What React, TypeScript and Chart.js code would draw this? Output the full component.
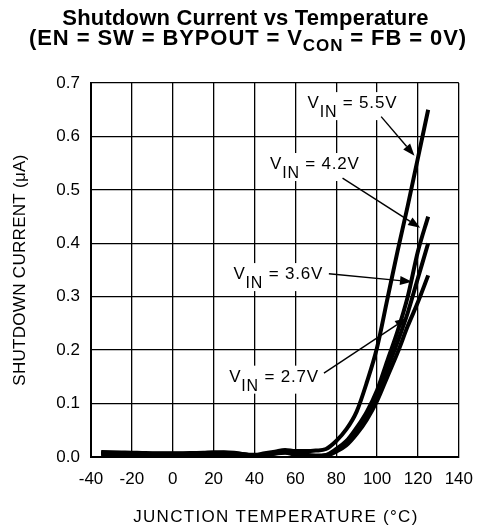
import React, { useEffect, useRef } from "react";
import { Chart, registerables } from "chart.js";

Chart.register(...registerables);

// ---------- data ----------
const temperatures = [
  -35, -30, -25, -20, -15, -10, -5, 0, 5, 10, 15, 20, 25, 30, 35, 40, 45, 50, 55, 60,
  65, 70, 75, 80, 85, 90, 95, 100, 105, 110, 115, 120, 125,
];

const vin55 = [
  0.0095, 0.009, 0.0085, 0.008, 0.0075, 0.007, 0.007, 0.007, 0.007, 0.0075, 0.008, 0.009,
  0.009, 0.008, 0.005, 0.004, 0.007, 0.01, 0.013, 0.011, 0.011, 0.012, 0.015,
  0.03, 0.052, 0.085, 0.14, 0.205, 0.295, 0.385, 0.47, 0.56, 0.65,
];
const vin42 = [
  0.008, 0.0075, 0.007, 0.0065, 0.006, 0.006, 0.006, 0.006, 0.006, 0.0065, 0.007, 0.0075,
  0.008, 0.007, 0.005, 0.002, 0.004, 0.008, 0.01, 0.006, 0.004, 0.003, 0.004,
  0.015, 0.03, 0.055, 0.085, 0.125, 0.18, 0.235, 0.3, 0.385, 0.45,
];
const vin36 = [
  0.006, 0.006, 0.0055, 0.005, 0.005, 0.005, 0.005, 0.005, 0.005, 0.0055, 0.006, 0.006,
  0.007, 0.006, 0.003, 0.001, 0.003, 0.007, 0.009, 0.005, 0.003, 0.002, 0.003,
  0.012, 0.025, 0.048, 0.078, 0.115, 0.165, 0.215, 0.27, 0.335, 0.4,
];
const vin27 = [
  0.0045, 0.0045, 0.004, 0.004, 0.0035, 0.0035, 0.0035, 0.0035, 0.004, 0.004, 0.0045, 0.005,
  0.0055, 0.0045, 0.002, 0.0005, 0.002, 0.006, 0.008, 0.004, 0.002, 0.001, 0.002,
  0.01, 0.022, 0.043, 0.07, 0.105, 0.15, 0.195, 0.245, 0.29, 0.34,
];

const seriesLabels = ["5.5V", "4.2V", "3.6V", "2.7V"];
const seriesValues = [vin55, vin42, vin36, vin27];

const xTicks = [-40, -20, 0, 20, 40, 60, 80, 100, 120, 140];
const yTicks = [0, 0.1, 0.2, 0.3, 0.4, 0.5, 0.6, 0.7];

// annotation anchors, in data units (temperature, current)
const labelT = [66, 47.6, 29.7, 27.6];
const labelV = [0.653, 0.539, 0.333, 0.141];
const arrowFromT = [102, 83.1, 76.4, 74];
const arrowFromV = [0.637, 0.522, 0.343, 0.157];
const arrowToT = [118.3, 121.1, 117.1, 114.7];
const arrowToV = [0.564, 0.429, 0.328, 0.26];

const titleLine1 = "Shutdown Current vs Temperature";
const titleLine2Parts = [
  { text: "(EN = SW = BYPOUT = V", sub: false },
  { text: "CON", sub: true },
  { text: " = FB = 0V)", sub: false },
];
const xTitle = "JUNCTION TEMPERATURE (°C)";
const yTitle = "SHUTDOWN CURRENT (μA)";

const FONT = "'Liberation Sans', Arial, Helvetica, sans-serif";

type Part = { text: string; sub: boolean };

function setSpacing(ctx: any, px: number) {
  if ("letterSpacing" in ctx) ctx.letterSpacing = px + "px";
}

function measureParts(ctx: CanvasRenderingContext2D, parts: Part[], mainFont: string, subFont: string) {
  return parts.map((p) => {
    ctx.font = p.sub ? subFont : mainFont;
    return ctx.measureText(p.text).width;
  });
}

function drawParts(
  ctx: CanvasRenderingContext2D,
  parts: Part[],
  x: number,
  y: number,
  mainFont: string,
  subFont: string,
  subDy: number,
  align: "left" | "center"
) {
  const widths = measureParts(ctx, parts, mainFont, subFont);
  const total = widths.reduce((a, b) => a + b, 0);
  let cx = align === "center" ? x - total / 2 : x;
  ctx.textAlign = "left";
  ctx.textBaseline = "alphabetic";
  parts.forEach((p, i) => {
    ctx.font = p.sub ? subFont : mainFont;
    ctx.fillText(p.text, cx, p.sub ? y + subDy : y);
    cx += widths[i];
  });
  return total;
}

const overlayPlugin = {
  id: "overlay",
  afterDatasetsDraw(chart: any) {
    const ctx: CanvasRenderingContext2D = chart.ctx;
    const xs = chart.scales.x;
    const ys = chart.scales.y;
    ctx.save();
    setSpacing(ctx, 0.8);
    const mainFont = `17px ${FONT}`;
    const subFont = `16px ${FONT}`;
    seriesLabels.forEach((lab, i) => {
      const px = xs.getPixelForValue(labelT[i]);
      const py = ys.getPixelForValue(labelV[i]);
      const parts: Part[] = [
        { text: "V", sub: false },
        { text: "IN", sub: true },
        { text: " = " + lab, sub: false },
      ];
      const total = measureParts(ctx, parts, mainFont, subFont).reduce((a, b) => a + b, 0);
      ctx.fillStyle = "#ffffff";
      ctx.fillRect(px - 4, py - 16, total + 8, 28);
      ctx.fillStyle = "#000000";
      drawParts(ctx, parts, px, py, mainFont, subFont, 9, "left");

      // arrow
      const fx = xs.getPixelForValue(arrowFromT[i]);
      const fy = ys.getPixelForValue(arrowFromV[i]);
      const tx = xs.getPixelForValue(arrowToT[i]);
      const ty = ys.getPixelForValue(arrowToV[i]);
      const ang = Math.atan2(ty - fy, tx - fx);
      const headLen = 12;
      const headHalf = 4.5;
      const bx = tx - headLen * Math.cos(ang);
      const by = ty - headLen * Math.sin(ang);
      ctx.strokeStyle = "#000000";
      ctx.lineWidth = 1.4;
      ctx.beginPath();
      ctx.moveTo(fx, fy);
      ctx.lineTo(bx, by);
      ctx.stroke();
      ctx.beginPath();
      ctx.moveTo(tx, ty);
      ctx.lineTo(bx + headHalf * Math.sin(ang), by - headHalf * Math.cos(ang));
      ctx.lineTo(bx - headHalf * Math.sin(ang), by + headHalf * Math.cos(ang));
      ctx.closePath();
      ctx.fill();
    });
    ctx.restore();
  },
  afterDraw(chart: any) {
    const ctx: CanvasRenderingContext2D = chart.ctx;
    const xs = chart.scales.x;
    const ys = chart.scales.y;
    ctx.save();
    ctx.fillStyle = "#000000";
    const tFont = `bold 22px ${FONT}`;
    setSpacing(ctx, 0.2);
    drawParts(ctx, [{ text: titleLine1, sub: false }], 245.5, 25, tFont, tFont, 0, "center");
    setSpacing(ctx, 0.9);
    drawParts(ctx, titleLine2Parts, 248, 45, tFont, `bold 17px ${FONT}`, 6, "center");

    // axis titles
    const aFont = `17px ${FONT}`;
    ctx.font = aFont;
    ctx.textAlign = "center";
    ctx.textBaseline = "middle";
    setSpacing(ctx, 1.3);
    ctx.fillText(xTitle, (xs.left + xs.right) / 2 + 1, 517);
    setSpacing(ctx, 0.3);
    ctx.translate(20, (ys.top + ys.bottom) / 2);
    ctx.rotate(-Math.PI / 2);
    ctx.fillText(yTitle, 0, 0);
    ctx.restore();
  },
};

export default function App() {
  const canvasRef = useRef<HTMLCanvasElement | null>(null);

  useEffect(() => {
    if (!canvasRef.current) return;
    const datasets = seriesLabels.map((lab, i) => ({
      label: "VIN = " + lab,
      data: temperatures.map((t, j) => ({ x: t, y: seriesValues[i][j] })),
      borderColor: "#000000",
      backgroundColor: "#000000",
      borderWidth: 4,
      pointRadius: 0,
      fill: false,
      cubicInterpolationMode: "monotone" as const,
    }));

    const chart = new Chart(canvasRef.current, {
      type: "line",
      data: { datasets },
      plugins: [overlayPlugin],
      options: {
        animation: false,
        responsive: true,
        maintainAspectRatio: false,
        layout: { padding: { top: 83, right: 19, left: 0, bottom: 0 } },
        plugins: {
          legend: { display: false },
          title: { display: false },
          tooltip: { enabled: false },
        },
        scales: {
          x: {
            type: "linear",
            min: -40,
            max: 140,
            afterBuildTicks: (scale: any) => {
              scale.ticks = xTicks.map((v) => ({ value: v }));
            },
            afterFit: (scale: any) => {
              scale.height = 70;
            },
            grid: { color: "#000000", lineWidth: 1.3, drawTicks: false },
            border: { display: true, color: "#000000", width: 2 },
            ticks: {
              color: "#000000",
              font: { family: FONT, size: 17 },
              padding: 12,
              maxRotation: 0,
              callback: (v: any) => String(v),
            },
            title: { display: false },
          },
          y: {
            type: "linear",
            min: 0,
            max: 0.7,
            afterBuildTicks: (scale: any) => {
              scale.ticks = yTicks.map((v) => ({ value: v }));
            },
            afterFit: (scale: any) => {
              scale.width = 91;
            },
            grid: { color: "#000000", lineWidth: 1.3, drawTicks: false },
            border: { display: true, color: "#000000", width: 2 },
            ticks: {
              color: "#000000",
              font: { family: FONT, size: 17 },
              padding: 11,
              callback: (v: any) => Number(v).toFixed(1),
            },
            title: { display: false },
          },
        },
      },
    });
    return () => chart.destroy();
  }, []);

  return (
    <div style={{ position: "absolute", left: 0, top: 0, width: 485, height: 527, background: "#ffffff" }}>
      <canvas ref={canvasRef} />
    </div>
  );
}
